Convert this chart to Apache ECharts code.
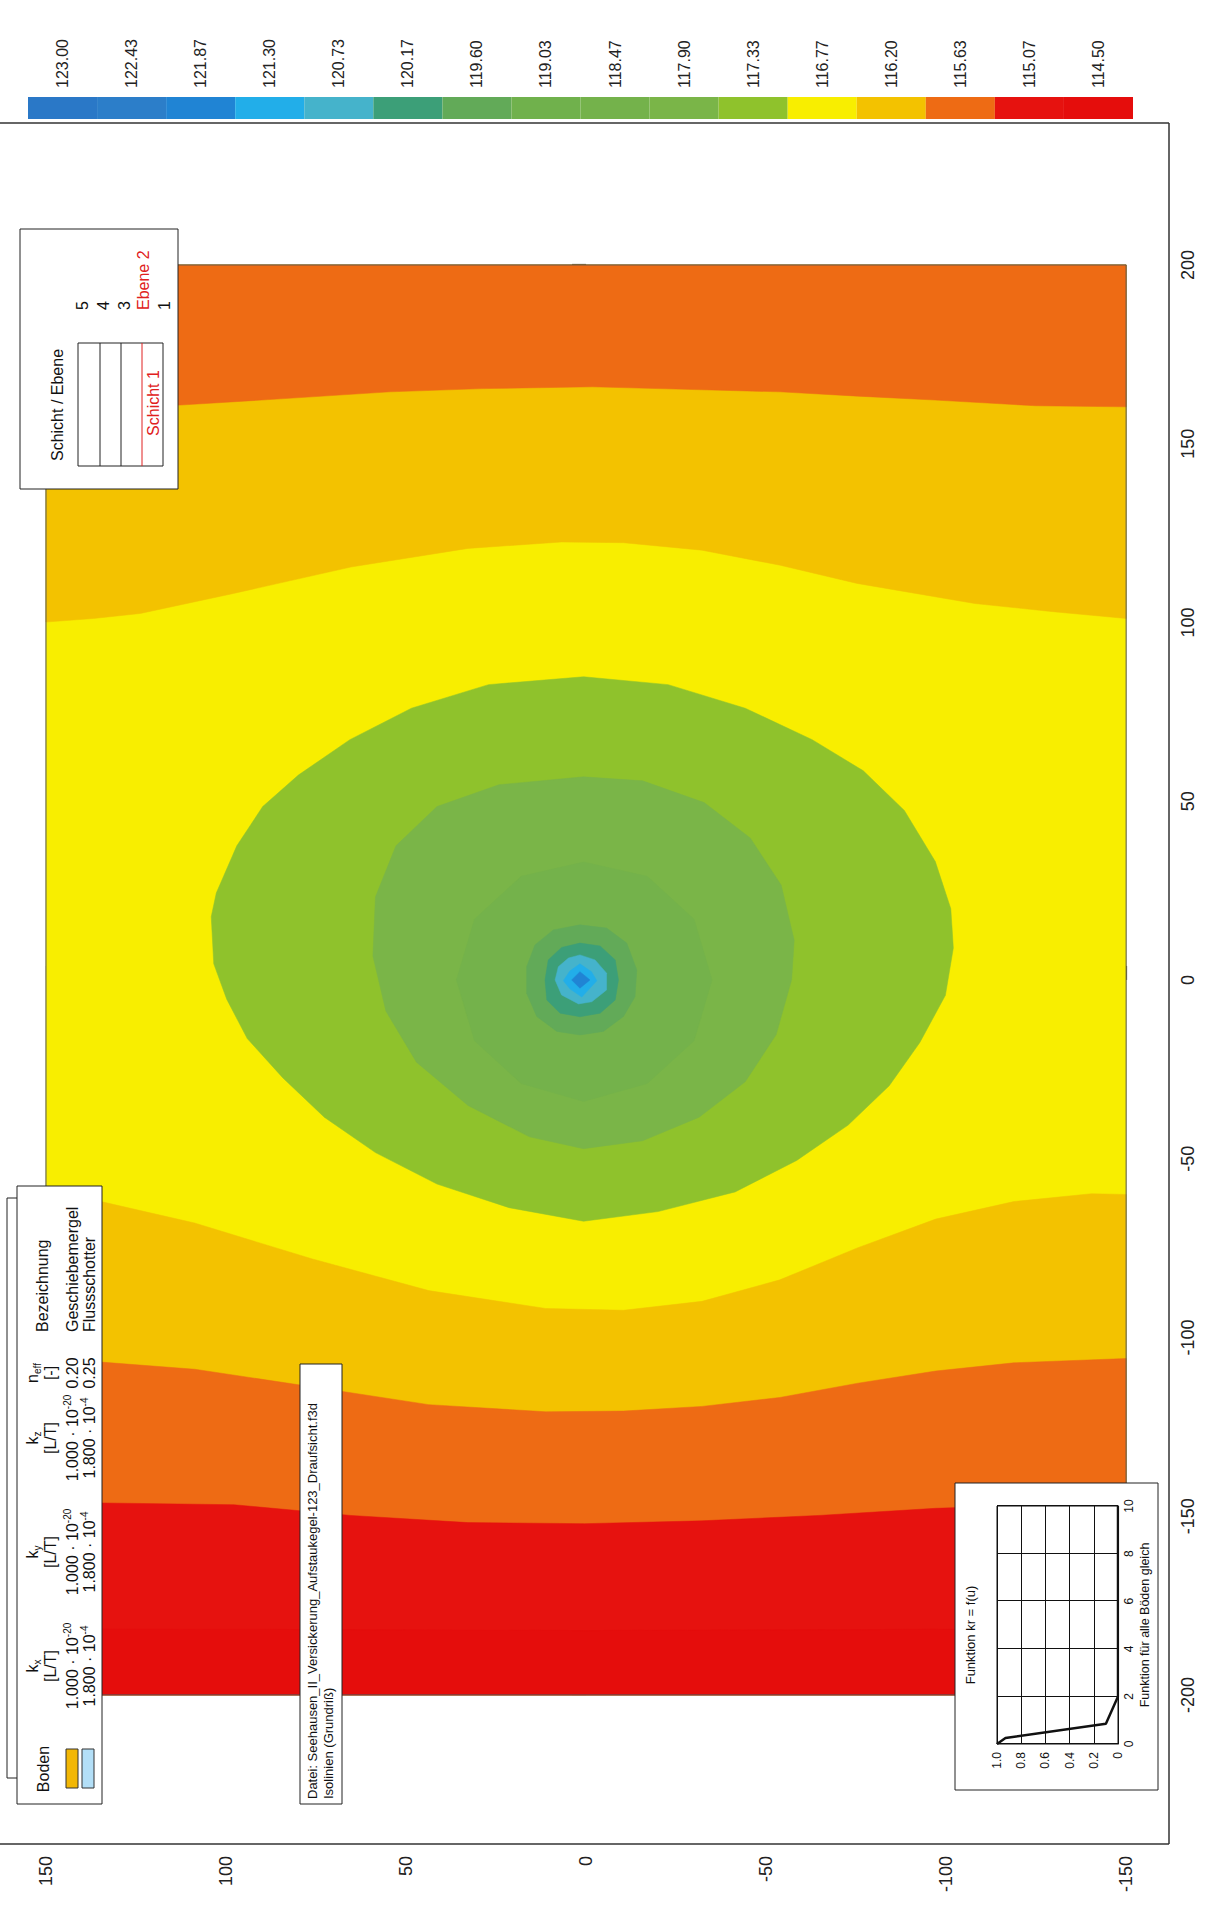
<!DOCTYPE html>
<html>
<head>
<meta charset="utf-8">
<title>Isolinien (Grundriß)</title>
<script src="https://cdn.jsdelivr.net/npm/echarts@6/dist/echarts.min.js"></script>
<style>
  html, body { margin: 0; padding: 0; background: #fff; }
  #page { position: relative; width: 1207px; height: 1910px; overflow: hidden; background: #fff; }
  /* the sheet is laid out in landscape and turned a quarter turn to the left */
  #chart { position: absolute; left: 0; top: 1910px; width: 1910px; height: 1207px;
           transform-origin: 0 0; transform: rotate(-90deg); }
  /* blank sheet margin along the open side of the frame */
  #margin { position: absolute; left: 0; top: 125px; width: 3px; height: 1716px; background: #fff; z-index: 2; }
</style>
</head>
<body>
<div id="page"><div id="chart"></div><div id="margin"></div></div>
<script>
// ---------------------------------------------------------------------------
// Colour scale: groundwater head classes [m]
const headLevels = ['123.00', '122.43', '121.87', '121.30', '120.73', '120.17', '119.60', '119.03',
                    '118.47', '117.90', '117.33', '116.77', '116.20', '115.63', '115.07', '114.50'];
const headColors = ['#2a78c7', '#2c7ec9', '#2084d4', '#22aee9', '#45b3cb', '#3c9f78', '#62aa58', '#70b14c',
                    '#74b24b', '#7ab548', '#8fc22c', '#f8ee00', '#f3c200', '#ee6b14', '#e6120f', '#e50d0c'];

// Axis ticks [m]
const xTicks = [-200, -150, -100, -50, 0, 50, 100, 150, 200];
const yTicks = [-150, -100, -50, 0, 50, 100, 150];

// Model domain [m]
const domainX = [-200, 200];
const domainY = [-150, 150];

// Isolines bounding the edge bands, points [x, y], running from y = 150 to y = -150
const isoOrangeGoldN = [[160.2, 150], [160.8, 112.7], [162.4, 87], [164.5, 54.5], [165.4, 28.6], [165.9, -1.8],
                        [165.2, -27.7], [164.5, -53.9], [163.3, -75.4], [162.2, -97], [160.6, -125], [160.3, -150]];
const isoGoldYellowN = [[100.1, 150], [101.1, 136.8], [102.5, 123.8], [108.1, 97.9], [115.5, 65.3], [120.7, 32.8],
                        [122.5, 6.8], [122.3, -10.4], [120.2, -32.2], [116.0, -53.9], [110.9, -75.3],
                        [105.3, -107.9], [103.0, -129.7], [101.1, -150]];
const isoYellowGoldS = [[-61.5, 150], [-62.0, 134.7], [-68.0, 108.7], [-78.0, 76.2], [-86.9, 43.7], [-91.9, 11.2],
                        [-92.4, -10.4], [-89.9, -32.2], [-83.9, -53.8], [-74.9, -75.5], [-66.9, -97.1],
                        [-62.0, -118.8], [-59.8, -140.4], [-60.0, -150]];
const isoGoldOrangeS = [[-106.5, 150], [-106.9, 134.7], [-108.9, 108.7], [-113.8, 76.2], [-118.8, 43.7],
                        [-120.8, 11.2], [-120.6, -10.4], [-119.3, -32.2], [-116.8, -53.8], [-112.8, -75.5],
                        [-109.4, -97.1], [-107.1, -118.8], [-105.9, -150]];
const isoOrangeRedS  = [[-146.3, 150], [-146.3, 134.7], [-146.8, 97.8], [-149.8, 65.3], [-151.8, 32.8],
                        [-152.1, 0.4], [-151.3, -32.2], [-149.8, -64.6], [-147.8, -97.1], [-147.1, -118.8],
                        [-146.3, -150]];
const isoRedDarkS    = [[-181.5, 150], [-181.8, 50], [-182.0, 0], [-181.8, -50], [-181.5, -150]];

// Closed isolines around the infiltration mound, points [x, y]
const ring11733 = [[84.8, 0.7], [82.6, 27.1], [76.0, 48.5], [67.2, 65.6], [57.3, 79.9], [48.5, 89.8], [37.5, 97.0],
                   [24.3, 102.7], [17.7, 104.1], [4.5, 103.4], [-5.4, 99.8], [-16.4, 94.1], [-27.4, 84.2],
                   [-38.4, 72.7], [-48.3, 58.5], [-57.1, 41.4], [-63.7, 21.4], [-67.5, 0.7], [-64.8, -20.0],
                   [-59.3, -41.4], [-50.5, -58.5], [-40.6, -72.8], [-29.6, -84.2], [-17.5, -92.7], [-4.3, -99.8],
                   [8.9, -102.0], [19.9, -101.3], [33.1, -97.0], [47.4, -88.4], [58.5, -77.0], [67.2, -62.8],
                   [76.0, -44.2], [82.6, -22.8]];
const ring11790 = [[56.8, 0.7], [54.6, 24.2], [48.5, 41.4], [37.5, 52.8], [23.2, 58.5], [6.7, 59.2], [-8.7, 55.6],
                   [-23.0, 47.1], [-35.1, 32.8], [-43.9, 15.7], [-47.2, 0.7], [-45.0, -15.7], [-38.4, -31.4],
                   [-28.5, -44.2], [-15.3, -52.8], [0.1, -57.1], [11.1, -57.8], [26.5, -54.2], [39.7, -45.6],
                   [49.6, -32.8], [55.7, -15.7]];
const ring11847 = [[33, 0.7], [29, 18], [17, 31], [0, 36], [-17, 31], [-29, 18], [-34, 0.7], [-29, -17],
                   [-17, -30], [0, -35], [17, -30], [29, -17]];
const ring11960 = [[15.4, 1.7], [14.5, -5.7], [10.3, -11.3], [2.8, -14.1], [-4.7, -13.6], [-10.2, -10.4],
                   [-14.4, -4.8], [-15.4, 1.7], [-14.4, 8.1], [-10.2, 13.7], [-3.7, 16.5], [3.7, 16.5],
                   [9.8, 14.2], [14.0, 9.1]];
const ring12017 = [[10.3, 1.7], [9.5, -3.9], [5.6, -8.1], [0, -9.0], [-5.6, -8.1], [-9.3, -3.9], [-10.3, 1.7],
                   [-9.3, 7.2], [-5.6, 10.9], [0, 11.4], [5.6, 10.5], [9.1, 6.8]];
const ring12073 = [[7.0, 1.7], [5.6, -2.5], [1.9, -5.7], [-2.8, -5.7], [-6.1, -1.6], [-6.7, 2.1], [-4.2, 6.8],
                   [0, 8.6], [3.7, 7.7], [6.1, 4.9]];
const ring12130 = [[4.5, 1.7], [2.3, -1.5], [-0.2, -3.0], [-4.8, 1.2], [-2.5, 4.5], [-0.2, 6.3], [2.5, 4.5]];
const ring12187 = [[2.3, 1.7], [0, -1.1], [-2.3, 1.7], [0, 4.0]];

// Relative permeability function kr = f(u)
const krU      = [0, 0.25, 0.85, 2, 10];
const krValues = [1.0, 0.93, 0.10, 0, 0];

// Soil table
const soilNames    = ['Geschiebemergel', 'Flussschotter'];
const soilMantissa = ['1.000', '1.800'];
const soilExponent = ['-20', '-4'];
const soilNeff     = ['0.20', '0.25'];
const soilSwatch   = ['#f2b705', '#b3dff7'];

// Layer / plane legend
const planeLabels = ['5', '4', '3', 'Ebene 2', '1'];

const fileLine1 = 'Datei: Seehausen_II_Versickerung_Aufstaukegel-123_Draufsicht.f3d';
const fileLine2 = 'Isolinien (Grundriß)';

// ---------------------------------------------------------------------------
const FF = '"Liberation Sans", Arial, Helvetica, sans-serif';

// closes an isoline against the north (x = 200) or south (x = -200) edge of the domain
function capNorth(line) {
  return line.concat([[domainX[1], line[line.length - 1][1]], [domainX[1], line[0][1]]]);
}
function capSouth(line) {
  return line.concat([[domainX[0], line[line.length - 1][1]], [domainX[0], line[0][1]]]);
}
const domainRect = [[domainX[0], domainY[0]], [domainX[1], domainY[0]], [domainX[1], domainY[1]], [domainX[0], domainY[1]]];

const regions = [
  { pts: domainRect,               level: 11 },
  { pts: capNorth(isoGoldYellowN), level: 12 },
  { pts: capNorth(isoOrangeGoldN), level: 13 },
  { pts: capSouth(isoYellowGoldS), level: 12 },
  { pts: capSouth(isoGoldOrangeS), level: 13 },
  { pts: capSouth(isoOrangeRedS),  level: 14 },
  { pts: capSouth(isoRedDarkS),    level: 15 },
  { pts: ring11733, level: 10 },
  { pts: ring11790, level: 9 },
  { pts: ring11847, level: 8 },
  { pts: ring11960, level: 6 },
  { pts: ring12017, level: 5 },
  { pts: ring12073, level: 4 },
  { pts: ring12130, level: 3 },
  { pts: ring12187, level: 2 },
  { pts: domainRect, level: -1 }   // outline of the model domain
];

// ---------------------------------------------------------------------------
// Plot frame in sheet pixels: left, right, bottom edge (the top edge runs off the sheet)
const FRAME = { left: 66, right: 1787, top: -3, bottom: 1169 };

// Annotation helpers (coordinates in the landscape sheet)
function box(x, y, w, h, extra) {
  return Object.assign({ type: 'rect', z: 5, silent: true, shape: { x: x, y: y, width: w, height: h },
    style: { fill: '#fff', stroke: '#222', lineWidth: 1 } }, extra || {});
}
function line(x1, y1, x2, y2, color, z, w) {
  return { type: 'line', z: z || 6, silent: true, shape: { x1: x1, y1: y1, x2: x2, y2: y2 },
    style: { stroke: color || '#222', lineWidth: w || 1 } };
}
function txt(x, y, text, o) {
  o = o || {};
  const align = o.align || 'center';
  return { type: 'text', z: 7, silent: true, x: x, y: y,
    style: { text: text, font: (o.size || 16) + 'px ' + FF, fill: o.color || '#111',
             align: align, textAlign: align, verticalAlign: 'middle', textVerticalAlign: 'middle',
             rich: o.rich } };
}
const richSub = {
  b:   { fontSize: 16, fontFamily: FF, color: '#111', lineHeight: 20 },
  sub: { fontSize: 10, fontFamily: FF, color: '#111', verticalAlign: 'bottom', lineHeight: 14 },
  sup: { fontSize: 10, fontFamily: FF, color: '#111', verticalAlign: 'top', lineHeight: 12 }
};

const graphics = [];

// plot frame
graphics.push(line(FRAME.left, 0, FRAME.left, FRAME.bottom, '#333', 4.5, 1.5));
graphics.push(line(FRAME.right, 0, FRAME.right, FRAME.bottom, '#333', 4.5, 1.5));
graphics.push(line(FRAME.left, FRAME.bottom, FRAME.right, FRAME.bottom, '#333', 4.5, 1.5));

// Layer / plane legend
graphics.push(box(1421, 20, 260, 158));
graphics.push(txt(1505, 57, 'Schicht / Ebene', { size: 16 }));
graphics.push(box(1444, 78, 123, 85, { z: 6, style: { fill: '#fff', stroke: '#222', lineWidth: 1 } }));
graphics.push(line(1444, 100, 1567, 100, '#222', 7));
graphics.push(line(1444, 121, 1567, 121, '#222', 7));
graphics.push(line(1444, 142, 1567, 142, '#e02020', 7));
const planeY = [82, 103, 124, 143, 164];
planeLabels.forEach(function (t, i) {
  graphics.push(txt(1600, planeY[i], t, { size: 16, align: 'left', color: t.indexOf('Ebene') === 0 ? '#e02020' : '#111' }));
});
graphics.push(txt(1507, 153, 'Schicht 1', { size: 16, color: '#e02020' }));

// Soil legend (two stacked cards)
graphics.push(box(132, 7, 580, 88));
graphics.push(box(106, 17, 618, 85, { z: 5.5 }));
graphics.push(txt(141, 43, 'Boden', { size: 16 }));
soilSwatch.forEach(function (c, i) {
  graphics.push({ type: 'rect', z: 7, silent: true, shape: { x: 122, y: i === 0 ? 66 : 82, width: 39, height: 12 },
    style: { fill: c, stroke: '#333', lineWidth: 1 } });
});
const kCols = [244, 358, 472];
['x', 'y', 'z'].forEach(function (s, i) {
  graphics.push(txt(kCols[i], 32, '{b|k}{sub|' + s + '}', { rich: richSub }));
  graphics.push(txt(kCols[i], 50, '[L/T]', { size: 16 }));
  soilMantissa.forEach(function (m, r) {
    graphics.push(txt(kCols[i], r === 0 ? 72 : 89, '{b|' + m + ' · 10}{sup|' + soilExponent[r] + '}', { rich: richSub }));
  });
});
graphics.push(txt(537, 32, '{b|n}{sub|eff}', { rich: richSub }));
graphics.push(txt(537, 50, '[-]', { size: 16 }));
soilNeff.forEach(function (n, r) { graphics.push(txt(537, r === 0 ? 72 : 89, n, { size: 16 })); });
graphics.push(txt(578, 42, 'Bezeichnung', { size: 16, align: 'left' }));
soilNames.forEach(function (n, r) { graphics.push(txt(578, r === 0 ? 72 : 89, n, { size: 16, align: 'left' })); });

// File information
graphics.push(box(106, 300, 440, 42));
graphics.push(txt(111, 312, fileLine1, { size: 13, align: 'left' }));
graphics.push(txt(111, 328, fileLine2, { size: 13, align: 'left' }));

// kr function card
graphics.push(box(120, 955, 307, 203));
graphics.push(txt(275, 970, 'Funktion kr = f(u)', { size: 13 }));

// ---------------------------------------------------------------------------
const chart = echarts.init(document.getElementById('chart'), null, { renderer: 'svg', width: 1910, height: 1207 });

chart.setOption({
  animation: false,
  backgroundColor: '#fff',
  textStyle: { fontFamily: FF },
  grid: [
    { left: FRAME.left, top: FRAME.top, width: FRAME.right - FRAME.left, height: FRAME.bottom - FRAME.top,
      show: false, outerBoundsMode: 'none', containLabel: false },
    { left: 166, top: 997, width: 238, height: 121, show: true, borderColor: '#111', borderWidth: 1,
      backgroundColor: 'transparent', z: 8, outerBoundsMode: 'none', containLabel: false },
    { left: 1791, top: 28, width: 22, height: 1105, outerBoundsMode: 'none', containLabel: false }
  ],
  xAxis: [
    { gridIndex: 0, type: 'value', min: -241.7, max: 239.7,
      axisLine: { show: false },
      axisTick: { show: true, inside: true, length: 14, customValues: xTicks, lineStyle: { color: '#333', width: 1.2 } },
      axisLabel: { customValues: xTicks, fontSize: 18, margin: 10, color: '#222' },
      splitLine: { show: false } },
    { gridIndex: 1, type: 'value', min: 0, max: 10, interval: 2, z: 8,
      axisLine: { show: true, lineStyle: { color: '#111', width: 1 } },
      axisTick: { show: false },
      splitLine: { show: true, lineStyle: { color: '#111', width: 1 } },
      axisLabel: { fontSize: 12, margin: 5, color: '#111' },
      name: 'Funktion für alle Böden gleich', nameLocation: 'middle', nameGap: 20,
      nameTextStyle: { fontSize: 12.5, color: '#111' } },
    { gridIndex: 2, type: 'value', min: 0, max: 1, show: false }
  ],
  yAxis: [
    { gridIndex: 0, type: 'value', min: -161.9, max: 163.6,
      axisLine: { show: false },
      axisTick: { show: true, inside: true, length: 14, customValues: yTicks, lineStyle: { color: '#333', width: 1.2 } },
      axisLabel: { customValues: yTicks, fontSize: 18, margin: 12, color: '#222' },
      splitLine: { show: false } },
    { gridIndex: 1, type: 'value', min: 0, max: 1, interval: 0.2, z: 8,
      axisLine: { show: true, lineStyle: { color: '#111', width: 1 } },
      axisTick: { show: false },
      splitLine: { show: true, lineStyle: { color: '#111', width: 1 } },
      axisLabel: { fontSize: 12, margin: 8, color: '#111',
                   formatter: function (v) { return v === 0 ? '0' : v.toFixed(1); } } },
    { gridIndex: 2, type: 'category', data: headLevels, inverse: true, position: 'right',
      axisLine: { show: false }, axisTick: { show: false },
      axisLabel: { fontSize: 16, margin: 9, color: '#222' } }
  ],
  graphic: { elements: graphics },
  series: [
    { type: 'custom', name: 'Isolinien', xAxisIndex: 0, yAxisIndex: 0, silent: true, z: 2,
      data: regions.map(function (r) { return r.pts[0]; }),
      renderItem: function (params, api) {
        const r = regions[params.dataIndex];
        const pts = r.pts.map(function (p) { return api.coord(p); });
        if (r.level < 0) {
          return { type: 'polygon', shape: { points: pts }, style: { fill: 'none', stroke: '#555', lineWidth: 1 } };
        }
        return { type: 'polygon', shape: { points: pts },
                 style: { fill: headColors[r.level], stroke: headColors[r.level], lineWidth: 0.5 } };
      } },
    { type: 'line', name: 'kr', xAxisIndex: 1, yAxisIndex: 1, z: 9, silent: true,
      data: krU.map(function (u, i) { return [u, krValues[i]]; }),
      symbol: 'none', lineStyle: { color: '#111', width: 2.5 } },
    { type: 'bar', name: 'Farbskala', xAxisIndex: 2, yAxisIndex: 2, silent: true,
      barWidth: '100%', barCategoryGap: 0,
      data: headLevels.map(function (l, i) { return { value: 1, itemStyle: { color: headColors[i] } }; }) }
  ]
});
</script>
</body>
</html>
